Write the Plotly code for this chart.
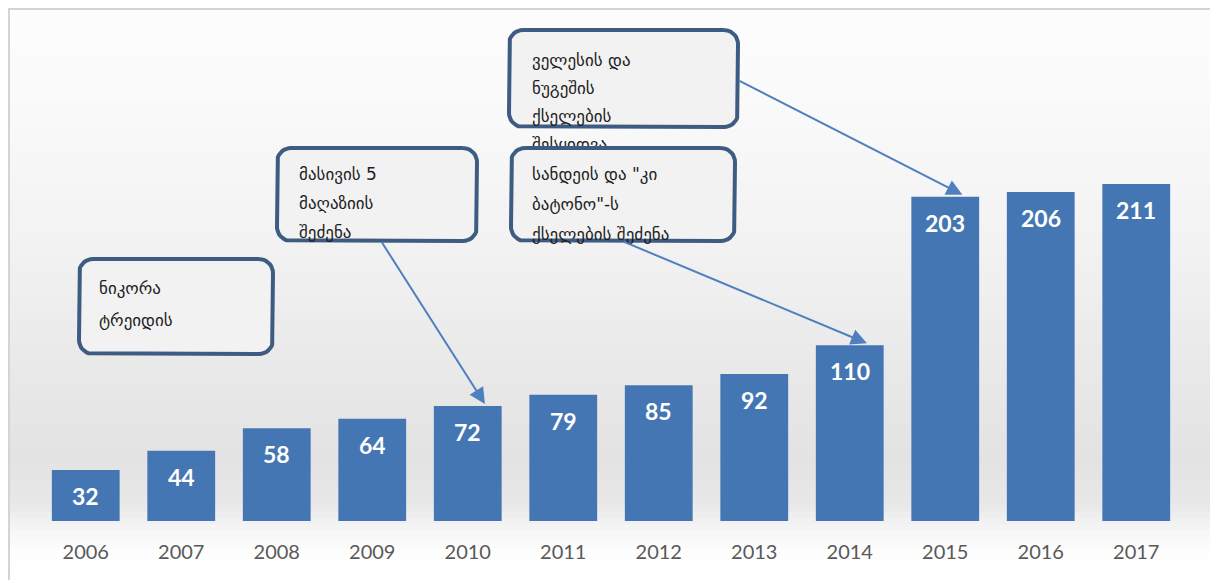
import numpy as np
import plotly.graph_objects as go

# ---- data ----
years = [2006, 2007, 2008, 2009, 2010, 2011, 2012, 2013, 2014, 2015, 2016, 2017]
values = [32, 44, 58, 64, 72, 79, 85, 92, 110, 203, 206, 211]
tick_labels = [str(y) for y in years]

callout_texts = [
    ["ნიკორა", "ტრეიდის"],
    ["მასივის 5", "მაღაზიის", "შეძენა"],
    ["ველესის და", "ნუგეშის", "ქსელების", "შესყიდვა"],
    ["სანდეის და \"კი", "ბატონო\"-ს", "ქსელების შეძენა"],
]
# callout -> (year, value) of the bar it points at (None = no arrow)
callout_targets = [None, (2010, 72), (2015, 203), (2014, 110)]

# ---- page geometry (pixels) ----
W, H = 1210, 580
ML, MR, MT, MB = 38, 26, 20, 59
PX0, PX1 = ML, W - MR          # plot area x extent
PY0, PY1 = MT, H - MB          # plot area y extent (top, bottom)
Y_MAX = (PY1 - PY0) / 1.597    # value axis upper limit

# callout boxes: x0, y0, x1, y1, text x, first line y, line spacing
boxes = [
    (79, 259, 273, 354, 99, 290, 32),
    (277, 148, 477, 241, 299, 176, 29),
    (509, 30, 738, 127, 532, 62, 28),
    (511, 148, 735, 241, 532, 176, 30),
]
# arrow tails on the boxes
tails = [None, (381, 241), (738, 80), (622, 241)]


def px_x(xv):
    return PX0 + (xv - (years[0] - 0.5)) / len(years) * (PX1 - PX0)


def px_y(v):
    return PY1 - v / Y_MAX * (PY1 - PY0)


def to_paper_x(p):
    return (p - PX0) / (PX1 - PX0)


def to_paper_y(p):
    return (PY1 - p) / (PY1 - PY0)


def rounded_rect(x0, y0, x1, y1, r, n=10):
    xs, ys = [], []
    corners = [
        (x1 - r, y0 + r, -90, 0),
        (x1 - r, y1 - r, 0, 90),
        (x0 + r, y1 - r, 90, 180),
        (x0 + r, y0 + r, 180, 270),
    ]
    for cx, cy, a0, a1 in corners:
        t = np.radians(np.linspace(a0, a1, n))
        xs.extend(cx + r * np.cos(t))
        ys.extend(cy + r * np.sin(t))
    xs.append(xs[0])
    ys.append(ys[0])
    return xs, ys


fig = go.Figure()

fig.add_trace(go.Bar(
    x=years, y=values,
    marker=dict(color="#4576b4", line=dict(width=0)),
    width=0.71,
    hoverinfo="x+y",
    xaxis="x", yaxis="y",
))

# callout boxes and their text on a pixel-unit overlay
for (x0, y0, x1, y1, tx, ty, dy), lines in zip(boxes, callout_texts):
    bx, by = rounded_rect(x0, y0, x1, y1, 14)
    fig.add_trace(go.Scatter(
        x=bx, y=by, mode="lines", fill="toself",
        fillcolor="#f2f2f2",
        line=dict(color="#3e5b82", width=4),
        hoverinfo="skip", xaxis="x2", yaxis="y2",
    ))
    fig.add_trace(go.Scatter(
        x=[tx] * len(lines), y=[ty + i * dy for i in range(len(lines))],
        mode="text", text=lines, textposition="middle right",
        textfont=dict(family="DejaVu Sans", size=17, color="#1e1e1e"),
        hoverinfo="skip", xaxis="x2", yaxis="y2",
    ))

annotations = []
# value labels inside the top of each bar
for yr, v in zip(years, values):
    annotations.append(dict(
        x=yr, y=v, xref="x", yref="y", text=str(v), showarrow=False,
        yanchor="top", yshift=-10,
        font=dict(family="Lato", size=23, color="white", weight="bold"),
    ))

# arrows from callouts to bars
for tgt, tail in zip(callout_targets, tails):
    if tgt is None:
        continue
    yr, v = tgt
    hx = px_x(yr + 0.18)
    hy = px_y(v) - 2
    annotations.append(dict(
        x=hx, y=hy, xref="x2", yref="y2",
        ax=tail[0], ay=tail[1], axref="x2", ayref="y2",
        showarrow=True, arrowhead=2, arrowsize=1.6, arrowwidth=2,
        arrowcolor="#4f7fbf", text="",
    ))

# soft vertical background gradient
stops_y = [8, 120, 260, 380, 460, 505, 530, 555, 580]
stops_c = [253, 249, 241, 232, 227, 232, 246, 254, 255]
shapes = []
band_edges = np.arange(8, 581, 6)
for a, b in zip(band_edges[:-1], band_edges[1:]):
    c = int(round(np.interp((a + b) / 2, stops_y, stops_c)))
    shapes.append(dict(
        type="rect", xref="paper", yref="paper", layer="below",
        x0=to_paper_x(9), x1=to_paper_x(W), y0=to_paper_y(b), y1=to_paper_y(a),
        fillcolor=f"rgb({c},{c},{c})", line=dict(width=0),
    ))
# outer frame (top and left edges)
shapes.append(dict(type="line", xref="paper", yref="paper", layer="below",
                   x0=to_paper_x(8), x1=to_paper_x(W), y0=to_paper_y(9), y1=to_paper_y(9),
                   line=dict(color="#d4d4d4", width=2)))
shapes.append(dict(type="line", xref="paper", yref="paper", layer="below",
                   x0=to_paper_x(9), x1=to_paper_x(9), y0=to_paper_y(8), y1=to_paper_y(H),
                   line=dict(color="#d4d4d4", width=2)))

fig.update_layout(
    width=W, height=H,
    margin=dict(l=ML, r=MR, t=MT, b=MB),
    paper_bgcolor="white",
    plot_bgcolor="rgba(0,0,0,0)",
    showlegend=False,
    xaxis=dict(
        range=[years[0] - 0.5, years[-1] + 0.5],
        tickvals=years, ticktext=tick_labels,
        showgrid=False, zeroline=False, showline=False, ticks="",
        ticklabelstandoff=17,
        tickfont=dict(family="Lato", size=20, color="#595959"),
        fixedrange=True,
    ),
    yaxis=dict(
        range=[0, Y_MAX], visible=False, showgrid=False, zeroline=False,
        fixedrange=True,
    ),
    xaxis2=dict(overlaying="x", anchor="y2", range=[PX0, PX1], visible=False,
                fixedrange=True),
    yaxis2=dict(overlaying="y", anchor="x2", range=[PY1, PY0], visible=False,
                fixedrange=True),
    annotations=annotations,
    shapes=shapes,
)

fig.write_html("out.html")
